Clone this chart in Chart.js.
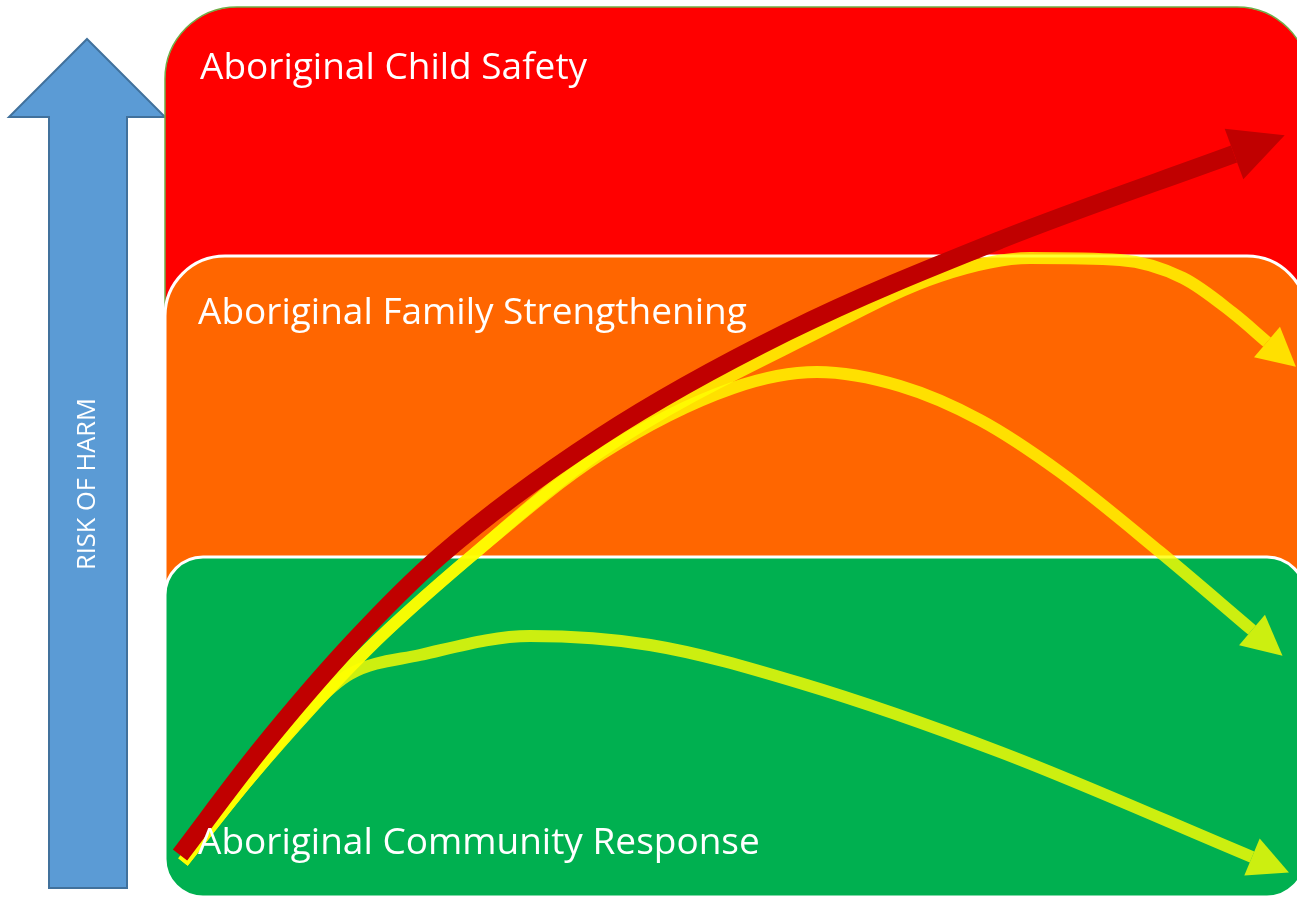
<!DOCTYPE html>
<html>
<head>
<meta charset="utf-8">
<script src="https://cdn.jsdelivr.net/npm/chart.js@4"></script>
<style>
  html, body { margin: 0; padding: 0; background: #fff; }
  #wrap { width: 1297px; height: 898px; }
</style>
</head>
<body>
<div id="wrap"><canvas id="riskChart" width="1297" height="898"></canvas></div>
<script>
// ================================================
// Risk of harm - service response bands
// ================================================

const bandNames = ['Aboriginal Child Safety', 'Aboriginal Family Strengthening', 'Aboriginal Community Response'];
const bandTops = [7, 256, 557];
const bandBottom = 897;
const axisLabel = 'RISK OF HARM';

// path that escalates into child safety (red)
const escalateX = [180, 260, 353, 440, 600, 787, 1000, 1234];
const escalateY = [855, 750, 642, 556, 437, 332, 240, 154];

// yellow paths
const familyX = [183, 250, 367, 475, 600, 821, 940, 1030, 1120, 1183, 1233, 1267];
const familyY = [862, 778, 650, 553, 452, 331, 276, 258, 260, 278, 313, 342];

const recoverX = [183, 250, 367, 475, 600, 733, 817, 900, 980, 1060, 1160, 1252];
const recoverY = [862, 778, 650, 553, 455, 388, 372, 386, 420, 472, 552, 630];

const communityX = [183, 250, 310, 350, 420, 530, 650, 800, 1000, 1252];
const communityY = [862, 778, 708, 674, 655, 636, 645, 683, 752, 857];

const zip = (xs, ys) => xs.map((x, i) => ({ x: x, y: ys[i] }));

const RED_LINE = '#C00000';
const YELLOW = 'rgba(255, 255, 0, 0.8)';

// boxes, side arrow and labels
const backdrop = {
    id: 'backdrop',
    beforeDatasetsDraw(chart) {
        const ctx = chart.ctx;
        const xs = chart.scales.x, ys = chart.scales.y;
        const left = xs.getPixelForValue(165);

        ctx.save();
        // blue "risk" arrow
        ctx.beginPath();
        ctx.moveTo(87, 39);
        ctx.lineTo(165, 117);
        ctx.lineTo(127, 117);
        ctx.lineTo(127, 888);
        ctx.lineTo(49, 888);
        ctx.lineTo(49, 117);
        ctx.lineTo(9, 117);
        ctx.closePath();
        ctx.fillStyle = '#5B9BD5';
        ctx.fill();
        ctx.lineWidth = 2;
        ctx.strokeStyle = '#41719C';
        ctx.stroke();

        // red band
        ctx.beginPath();
        ctx.roundRect(left, ys.getPixelForValue(bandTops[0]), 1309 - left, 600, 72);
        ctx.fillStyle = '#FF0000';
        ctx.fill();
        ctx.lineWidth = 1.5;
        ctx.strokeStyle = '#70AD47';
        ctx.stroke();

        // orange band
        ctx.beginPath();
        ctx.roundRect(left, ys.getPixelForValue(bandTops[1]), 1307 - left, 500, 60);
        ctx.fillStyle = '#FF6600';
        ctx.fill();
        ctx.lineWidth = 3;
        ctx.strokeStyle = '#FFFFFF';
        ctx.stroke();

        // green band
        const gTop = ys.getPixelForValue(bandTops[2]);
        ctx.beginPath();
        ctx.roundRect(left, gTop, 1305 - left, ys.getPixelForValue(bandBottom) - gTop, 38);
        ctx.fillStyle = '#00B050';
        ctx.fill();
        ctx.stroke();

        // vertical label
        ctx.font = '100px "Open Sans"';
        const sz = 100 * 172 / ctx.measureText(axisLabel).width;
        ctx.font = sz + 'px "Open Sans"';
        ctx.translate(88, 484);
        ctx.rotate(-Math.PI / 2);
        ctx.fillStyle = '#FFFFFF';
        ctx.textAlign = 'center';
        ctx.textBaseline = 'middle';
        ctx.fillText(axisLabel, 0, 0);
        ctx.restore();
    },
    afterDatasetsDraw(chart) {
        const ctx = chart.ctx;
        const heads = [
            { len: 54, half: 27 },
            { len: 38, half: 20 },
            { len: 40, half: 20 },
            { len: 40, half: 20 }
        ];
        ctx.save();
        chart.data.datasets.forEach((ds, i) => {
            const pts = chart.getDatasetMeta(i).data;
            const p = pts[pts.length - 1];
            let dx = p.x - p.cp1x, dy = p.y - p.cp1y;
            const d = Math.hypot(dx, dy) || 1;
            dx /= d; dy /= d;
            const h = heads[i];
            ctx.beginPath();
            ctx.moveTo(p.x + dx * h.len, p.y + dy * h.len);
            ctx.lineTo(p.x - dy * h.half, p.y + dx * h.half);
            ctx.lineTo(p.x + dy * h.half, p.y - dx * h.half);
            ctx.closePath();
            ctx.fillStyle = ds.borderColor;
            ctx.fill();
        });

        // band titles
        ctx.font = '100px "Open Sans"';
        const sz = 100 * 549 / ctx.measureText(bandNames[1]).width;
        ctx.font = sz + 'px "Open Sans"';
        ctx.fillStyle = '#FFFFFF';
        ctx.textBaseline = 'alphabetic';
        const base = [79, 324, 854];
        bandNames.forEach((name, i) => {
            ctx.fillText(name, i === 0 ? 200 : 198, base[i]);
        });
        ctx.restore();
    }
};

const lineStyle = (data, color, width) => ({
    data: data,
    borderColor: color,
    borderWidth: width,
    borderCapStyle: 'butt',
    pointRadius: 0,
    fill: false,
    cubicInterpolationMode: 'monotone'
});

new Chart(document.getElementById('riskChart'), {
    type: 'line',
    data: {
        datasets: [
            lineStyle(zip(escalateX, escalateY), RED_LINE, 18),
            lineStyle(zip(familyX, familyY), YELLOW, 12),
            lineStyle(zip(recoverX, recoverY), YELLOW, 12),
            lineStyle(zip(communityX, communityY), YELLOW, 12)
        ]
    },
    options: {
        responsive: false,
        animation: false,
        devicePixelRatio: 1,
        layout: { padding: 0 },
        plugins: { legend: { display: false }, tooltip: { enabled: false } },
        scales: {
            x: { type: 'linear', min: 0, max: 1297, display: false },
            y: { type: 'linear', min: 0, max: 898, reverse: true, display: false }
        }
    },
    plugins: [backdrop]
});
</script>
</body>
</html>
